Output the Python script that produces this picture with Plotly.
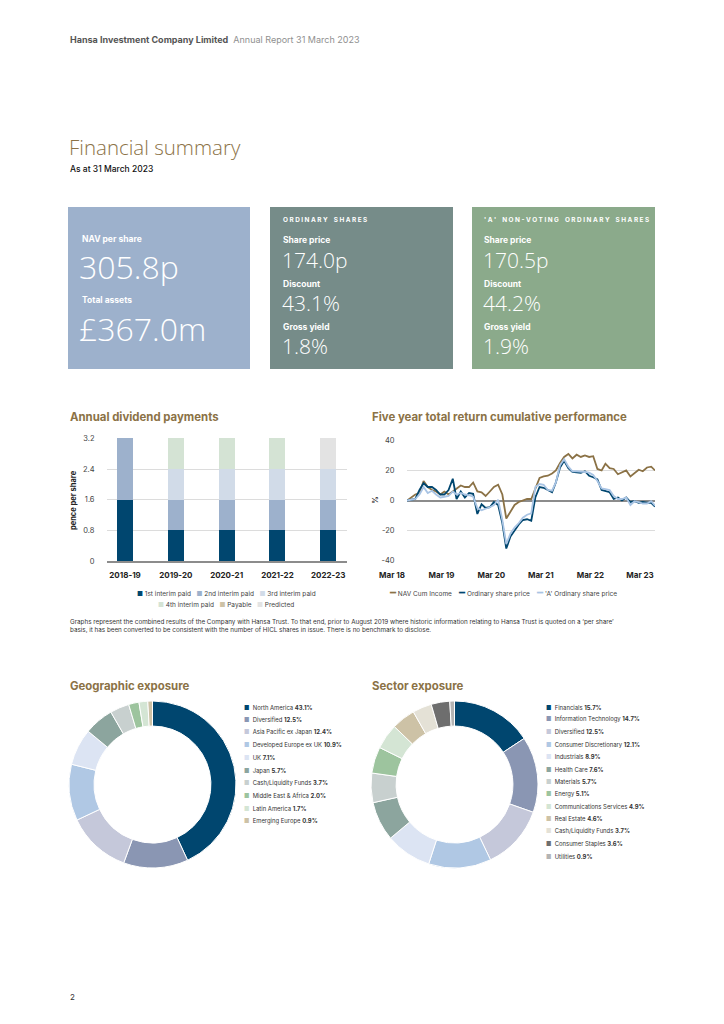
import plotly.graph_objects as go
import pandas as pd

W, H = 724, 1024
OFF = 8  # compensate the page's default body margin
def X(px): return (px - OFF) / W
def Y(py): return 1 - (py - OFF) / H

FONT = "Inter, Roboto, 'Noto Sans', sans-serif"
LIGHT = "'Open Sans', Lato, Roboto, sans-serif"
GOLD = "#8B7246"
NAVY = "#00466F"

# ---------------- data ----------------
div_years = ["2018-19", "2019-20", "2020-21", "2021-22", "2022-23"]
div_first = [1.6, 0.8, 0.8, 0.8, 0.8]
div_second = [1.6, 0.8, 0.8, 0.8, 0.8]
div_third = [0.0, 0.8, 0.8, 0.8, 0.8]
div_fourth = [0.0, 0.8, 0.8, 0.8, 0.0]
div_payable = [0.0, 0.0, 0.0, 0.0, 0.0]
div_predicted = [0.0, 0.0, 0.0, 0.0, 0.8]
div_ticks = [0, 0.8, 1.6, 2.4, 3.2]

perf_months = pd.period_range("2018-03", periods=61, freq="M").to_timestamp()
nav_cum_income = [0, 2, 4, 5, 13, 9, 7, 6, 4, 6, 4, 6, 8, 10, 9, 9, 12, 6, 5.5, 3,
                  6, 9, 10.5, 4, -12, -7, -3, -1, 0, 1, 1, 8, 15, 16, 16.5, 18, 20, 25, 29, 31,
                  28, 30.5, 29, 30, 29, 29.5, 21, 20, 24.5, 21.5, 21, 17.5, 19, 20, 16, 18.5, 20.5, 19.5, 22, 22.5,
                  20]
ordinary_price = [0, 0.5, 1, 7, 11.5, 9, 9, 7, 4, 4, 7, 14.5, 1, 6, 2, 5, 4.5, -9, -2.5, -5,
                  -4.5, -1, -3, -15, -32, -24, -20, -16, -13, -12.5, -13.5, 2, 9, 8.5, 7, 5.5, 12, 22, 26.5, 21.5,
                  19, 18.5, 18.5, 19.5, 16.5, 15.5, 14, 7, 6.5, 5.5, 1, 2, 0, 2, -1, -0.5, -1.5, -1, -1.5, -1.5,
                  -4]
a_ordinary_price = [0, 0.5, 1, 4, 9, 5, 6.5, 4, 2, 2.5, 3, 6, 4, 5, 4, 3.5, 2.5, -5, -6.5, -5.5,
                    -4.5, -3, 0.5, -13, -29, -22, -18, -15, -11.5, -9.5, -8.5, 9, 11, 10.5, 7, 6.5, 12, 23.5, 27.5, 22.5,
                    19.5, 19.5, 19.5, 19, 18.5, 17, 13, 8, 7.5, 7, 3, 1, 1, 2, -3, -0.5, -1, -2, -2, -0.5,
                    -3.5]
perf_tick_dates = ["2018-03-01", "2019-03-01", "2020-03-01", "2021-03-01", "2022-03-01", "2023-03-01"]
perf_tick_labels = ["Mar 18", "Mar 19", "Mar 20", "Mar 21", "Mar 22", "Mar 23"]
perf_y_ticks = [-40, -20, 0, 20, 40]

geo_labels = ["North America", "Diversified", "Asia Pacific ex Japan", "Developed Europe ex UK", "UK",
              "Japan", "Cash/Liquidity Funds", "Middle East & Africa", "Latin America", "Emerging Europe"]
geo_values = [43.1, 12.5, 12.4, 10.9, 7.1, 5.7, 3.7, 2.0, 1.7, 0.9]
geo_colors = ["#00466F", "#8A96B3", "#C5C8DA", "#B0C8E4", "#DCE4F3", "#8CA59E", "#C8D0CF",
              "#9DC49E", "#D4E5D4", "#CDC2A6"]

sec_labels = ["Financials", "Information Technology", "Diversified", "Consumer Discretionary", "Industrials",
              "Health Care", "Materials", "Energy", "Communications Services", "Real Estate",
              "Cash/Liquidity Funds", "Consumer Staples", "Utilities"]
sec_values = [15.7, 14.7, 12.5, 12.1, 8.9, 7.6, 5.7, 5.1, 4.9, 4.6, 3.7, 3.6, 0.9]
sec_colors = ["#00466F", "#8A96B3", "#C5C8DA", "#B0C8E4", "#DCE4F3", "#8CA59E", "#C8D0CF",
              "#9DC49E", "#D4E5D4", "#CDC2A6", "#E4E1D6", "#6E6E6E", "#B4B4B4"]

# ---------------- figure ----------------
fig = go.Figure()

div_series = [
    ("1st interim paid", div_first, "#00466F"),
    ("2nd interim paid", div_second, "#9DB1CC"),
    ("3rd interim paid", div_third, "#D1DBE8"),
    ("4th interim paid", div_fourth, "#D4E3D4"),
    ("Payable", div_payable, "#CDC2A6"),
    ("Predicted", div_predicted, "#E3E3E3"),
]
for name, vals, col in div_series:
    fig.add_trace(go.Bar(x=list(range(len(div_years))), y=vals, name=name, marker_color=col,
                         marker_line_width=0, width=0.315, xaxis="x", yaxis="y", showlegend=False))

perf_series = [
    ("NAV Cum Income", nav_cum_income, GOLD),
    ("Ordinary share price", ordinary_price, NAVY),
    ("'A' Ordinary share price", a_ordinary_price, "#A9C4E4"),
]
for name, vals, col in perf_series:
    fig.add_trace(go.Scatter(x=perf_months, y=vals, name=name, mode="lines",
                             line=dict(color=col, width=1.8), xaxis="x2", yaxis="y2", showlegend=False))

fig.add_trace(go.Pie(labels=geo_labels, values=geo_values, hole=0.70, sort=False, direction="clockwise",
                     rotation=0, marker=dict(colors=geo_colors, line=dict(color="white", width=1)),
                     textinfo="none", hoverinfo="label+percent", showlegend=False,
                     domain=dict(x=[X(69), X(236)], y=[Y(868), Y(701)])))
fig.add_trace(go.Pie(labels=sec_labels, values=sec_values, hole=0.70, sort=False, direction="clockwise",
                     rotation=0, marker=dict(colors=sec_colors, line=dict(color="white", width=1)),
                     textinfo="none", hoverinfo="label+percent", showlegend=False,
                     domain=dict(x=[X(371), X(538)], y=[Y(868), Y(701)])))

# ---------------- shapes (boxes) ----------------
shapes = []
for x0, x1, col in [(68, 250, "#9DB1CC"), (270, 453, "#768C89"), (472, 655, "#8BAA8B")]:
    shapes.append(dict(type="rect", xref="paper", yref="paper", x0=X(x0), x1=X(x1), y0=Y(369), y1=Y(207),
                       fillcolor=col, line_width=0, layer="below"))

# ---------------- annotations ----------------
anns = []
def ann(text, x, y, size, color="#222", weight=400, xanchor="left", yanchor="middle", angle=0, family=FONT):
    anns.append(dict(text=text, x=X(x), y=Y(y), xref="paper", yref="paper", showarrow=False,
                     xanchor=xanchor, yanchor=yanchor, textangle=angle, align="left",
                     font=dict(family=family, size=size, color=color, weight=weight)))

ann("<b>Hansa Investment Company Limited</b>  <span style='color:#909090'>Annual Report 31 March 2023</span>",
    68, 39, 9, "#555")
ann("Financial summary", 67, 147, 20.5, GOLD, 300, family=LIGHT)
ann("As at 31 March 2023", 68, 169, 8.5, "#111", 500)

# box 1
ann("NAV per share", 80, 239, 8.5, "white", 700)
ann("305.8p", 77, 266, 32, "white", 300, family=LIGHT)
ann("Total assets", 80, 300, 8.5, "white", 700)
ann("£367.0m", 77, 328, 32, "white", 300, family=LIGHT)
# box 2 and 3
def spaced(s):
    return " ".join(list(s)).replace("   ", "    ")
for bx, head, vals in [(281, "ORDINARY SHARES", ["174.0p", "43.1%", "1.8%"]),
                       (482, "'A' NON-VOTING ORDINARY SHARES", ["170.5p", "44.2%", "1.9%"])]:
    ann(spaced(head), bx, 220, 6.4, "white", 700)
    ann("Share price", bx, 240, 8.5, "white", 700)
    ann(vals[0], bx - 1, 260, 21, "white", 300, family=LIGHT)
    ann("Discount", bx, 284, 8.5, "white", 700)
    ann(vals[1], bx - 1, 303, 21, "white", 300, family=LIGHT)
    ann("Gross yield", bx, 327, 8.5, "white", 700)
    ann(vals[2], bx - 1, 346, 21, "white", 300, family=LIGHT)

# section titles
ann("Annual dividend payments", 68, 417, 11.4, GOLD, 700)
ann("Five year total return cumulative performance", 370, 417, 11.4, GOLD, 700)
ann("Geographic exposure", 68, 686, 11.4, GOLD, 700)
ann("Sector exposure", 370, 686, 11.4, GOLD, 700)

# axis titles
ann("pence per share", 73, 500, 7.5, "#222", 700, xanchor="center", angle=-90)
ann("%", 375, 500, 8, "#222", 400, xanchor="center", angle=-90)

# dividend legend
def sq(col, label):
    return f"<span style='color:{col}'>■</span> {label}"
row1 = "   ".join(sq(c, n) for n, _, c in div_series[:3])
row2 = "   ".join(sq(c, n) for n, _, c in div_series[3:])
ann(row1, 226, 594, 6.5, "#444", 400, xanchor="center")
ann(row2, 226, 605, 6.5, "#444", 400, xanchor="center")

# performance legend
perf_leg = "    ".join(f"<span style='color:{c};font-size:10px'>━</span> {n}" for n, _, c in perf_series)
ann(perf_leg, 503, 592, 6.5, "#444", 400, xanchor="center")

# footnote
ann("Graphs represent the combined results of the Company with Hansa Trust. To that end, prior to August 2019 where historic information relating to Hansa Trust is quoted on a ‘per share’<br>"
    "basis, it has been converted to be consistent with the number of HICL shares in issue. There is no benchmark to disclose.",
    68, 626, 6.3, "#333", 400)

# pie legends
for i, (lab, v, c) in enumerate(zip(geo_labels, geo_values, geo_colors)):
    ann(f"<span style='color:{c}'>■</span>  {lab} <b>{v:.1f}%</b>", 242, 707 + i * 12.7, 5.9, "#333")
for i, (lab, v, c) in enumerate(zip(sec_labels, sec_values, sec_colors)):
    ann(f"<span style='color:{c}'>■</span>  {lab} <b>{v:.1f}%</b>", 544, 707 + i * 12.42, 5.9, "#333")

ann("2", 68, 997, 8, "#333")

# ---------------- layout ----------------
fig.update_layout(
    width=W, height=H, margin=dict(l=0, r=0, t=0, b=0, pad=0, autoexpand=False),
    paper_bgcolor="white", plot_bgcolor="white",
    barmode="stack", bargap=0, showlegend=False,
    font=dict(family=FONT, color="#222"),
    shapes=shapes, annotations=anns,
    xaxis=dict(domain=[X(107), X(347)], range=[-0.355, 4.37], tickvals=list(range(len(div_years))),
               ticktext=[f"<b>{y}</b>" for y in div_years], tickfont=dict(size=8, color="#222"),
               showgrid=False, zeroline=False, showline=True, linecolor="#8c8c8c", linewidth=1.5,
               ticks="outside", ticklen=6, tickcolor="rgba(0,0,0,0)", fixedrange=True, automargin=False),
    yaxis=dict(domain=[Y(561), Y(438)], range=[0, 3.21], tickvals=div_ticks,
               ticktext=[f"{t:g}" for t in div_ticks], tickfont=dict(size=7.5, color="#444"),
               showgrid=True, gridcolor="#dcdcdc", gridwidth=1, zeroline=False,
               ticks="outside", ticklen=10, tickcolor="rgba(0,0,0,0)", fixedrange=True, automargin=False),
    xaxis2=dict(domain=[X(407), X(655)], type="date", range=[perf_months[0], perf_months[-1]],
                tickvals=perf_tick_dates, ticktext=[f"<b>{t}</b>" for t in perf_tick_labels],
                tickfont=dict(size=8, color="#222"), ticklabelshift=-15,
                showgrid=False, zeroline=False, showline=False,
                ticks="outside", ticklen=6, tickcolor="rgba(0,0,0,0)", anchor="y2", fixedrange=True,
                automargin=False),
    yaxis2=dict(domain=[Y(561), Y(440)], range=[-40.3, 40.3], tickvals=perf_y_ticks,
                ticktext=[str(t) for t in perf_y_ticks], tickfont=dict(size=7.5, color="#444"),
                showgrid=True, gridcolor="#dcdcdc", gridwidth=1,
                zeroline=True, zerolinecolor="#8c8c8c", zerolinewidth=2,
                ticks="outside", ticklen=10, tickcolor="rgba(0,0,0,0)", anchor="x2", fixedrange=True,
                automargin=False),
)

fig.write_html("out.html")
